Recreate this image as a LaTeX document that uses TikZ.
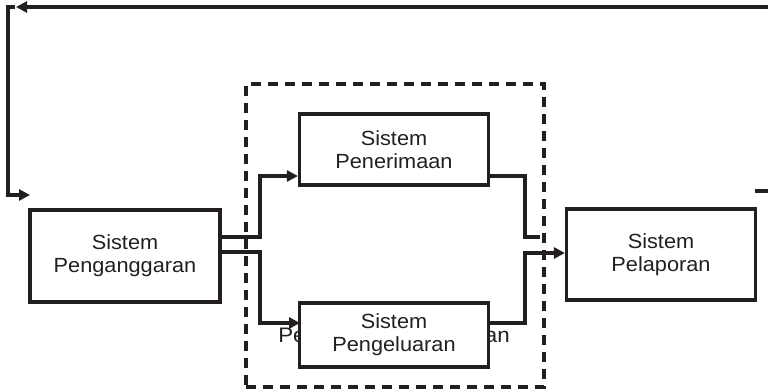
\documentclass[tikz,border=0pt]{standalone}
\usepackage{fontspec}
\setmainfont{Liberation Sans}[FakeStretch=1.06]
\usetikzlibrary{arrows.meta}
\definecolor{ink}{HTML}{231F20}
\begin{document}
\begin{tikzpicture}[x=1pt,y=-1pt,
  sysbox/.style={draw=ink,line width=3.2pt,fill=white,align=center,text=ink,
    font=\fontsize{20.5}{23}\selectfont,inner sep=0pt},
  conn/.style={draw=ink,line width=3.2pt,line join=miter},
  arr/.style={conn,-{Triangle[length=11pt,width=11pt]}},
  grp/.style={draw=ink,line width=3.3pt,dash pattern=on 10pt off 7pt}]
\useasboundingbox (0,0) rectangle (768,389);
% group frame
\node[grp,minimum width=298pt,minimum height=303pt,inner sep=0pt] (grp) at (395,235.5) {};
% label partly hidden behind Pengeluaran
\node[anchor=base,text=ink,font=\fontsize{21}{23}\selectfont,inner sep=0pt] (glbl) at (394,342) {Pengelolaan Keuangan};
% boxes
\node[sysbox,minimum width=190pt,minimum height=92pt] (pa) at (125,256) {Sistem\\Penganggaran};
\node[sysbox,minimum width=189pt,minimum height=91pt] (pl) at (661,254.5) {Sistem\\Pelaporan};
\node[sysbox,minimum width=189pt,minimum height=71pt] (pn) at (394,149.5) {Sistem\\Penerimaan};
% connectors
\coordinate (j1) at (260,237);
\coordinate (j2) at (260,252);
\coordinate (k1) at (525,176);
\coordinate (k2) at (525,323);
\coordinate (pnend) at (540,237);
\draw[arr] (pa.east |- j1) -- (j1) |- (pn.west |- k1);
\draw[conn] (pn.east |- k1) -- (k1) |- (pnend);
\coordinate (fbR) at (768,7);
\coordinate (fbL) at (16,7);
\coordinate (fbC) at (8,7);
\coordinate (fbD) at (8,195);
\coordinate (fbE) at (30,195);
\coordinate (rs1) at (755,191);
\coordinate (rs2) at (768,191);
\draw[arr] (fbR) -- (fbL);
\draw[arr] (15,7) -- (fbC) -- (fbD) -- (fbE);
\draw[conn] (rs1) -- (rs2);
\draw[arr] (pa.east |- j2) -- (j2) |- (300,323);
\draw[arr] (488,323) -- (k2) |- (pl.west |- 0,253);
\node[sysbox,minimum width=189pt,minimum height=64pt] (pe) at (394,335) {Sistem\\Pengeluaran};
\end{tikzpicture}
\end{document}
